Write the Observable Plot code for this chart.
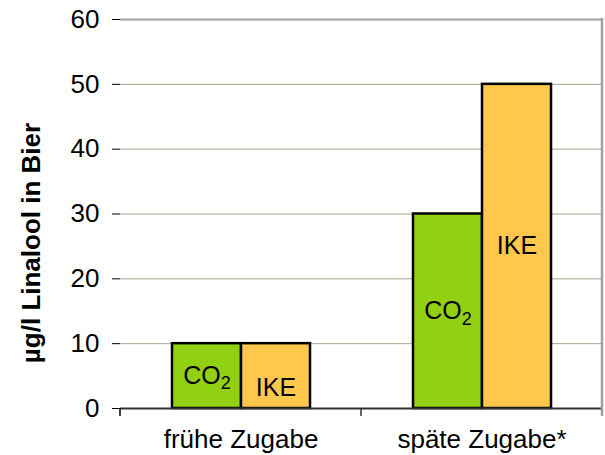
<!DOCTYPE html>
<html><head><meta charset="utf-8">
<script src="https://cdn.jsdelivr.net/npm/d3@7"></script>
<script src="https://cdn.jsdelivr.net/npm/@observablehq/plot@0.6"></script>
<style>body{margin:0;background:#fff}</style>
</head><body><div id="chart"></div>
<script>
const categories = ["frühe Zugabe", "späte Zugabe*"];
const seriesNames = ["CO2", "IKE"];
const co2Values = [10, 30];
const ikeValues = [10, 50];
const yTicks = [0, 10, 20, 30, 40, 50, 60];
const gridTicks = [10, 20, 30, 40, 50];
const yTitle = "µg/l Linalool in Bier";
const seriesColors = ["#92d013", "#ffc84c"];

const data = categories.flatMap((cat, i) => [
  {cat, series: "CO2", value: co2Values[i]},
  {cat, series: "IKE", value: ikeValues[i]}
]);
const lowIKE = d => d.cat === categories[0] && d.series === "IKE";

const chart = Plot.plot({
  width: 605, height: 455,
  marginLeft: 119, marginRight: 3, marginTop: 19, marginBottom: 47,
  style: {fontFamily: "'Liberation Sans', Arial, sans-serif", fontSize: "26px", color: "#000", background: "#fff"},
  fx: {domain: categories, padding: 0, label: null},
  x: {domain: seriesNames, paddingInner: 0, paddingOuter: 0.746, axis: null},
  y: {domain: [0, 60], label: null},
  color: {domain: seriesNames, range: seriesColors},
  marks: [
    Plot.ruleY(gridTicks, {stroke: "#a3a38c", strokeWidth: 1}),
    Plot.ruleY([60], {stroke: "#a0a0a0", strokeWidth: 2}),
    Plot.barY(data, {fx: "cat", x: "series", y: "value", fill: "series", stroke: "#000", strokeWidth: 2.5}),
    Plot.text(data.filter(d => !lowIKE(d)), {fx: "cat", x: "series", y: d => d.value / 2, text: "series", fontSize: 25}),
    Plot.text(data.filter(lowIKE), {fx: "cat", x: "series", y: d => d.value / 2, text: "series", fontSize: 25, dy: 12}),
    Plot.ruleY([0], {stroke: "#333", strokeWidth: 2}),
    Plot.axisY({ticks: yTicks, tickSize: 8, tickPadding: 13, line: true, label: null}),
    Plot.axisFx({anchor: "bottom", tickSize: 0, tickPadding: 21, label: null}),
    Plot.text([yTitle], {facet: "super", frameAnchor: "left", textAnchor: "middle", lineAnchor: "middle", rotate: -90, dx: -89, dy: 29, fontWeight: "bold", fontSize: 26})
  ]
});

// subscript for CO2 labels
d3.select(chart).selectAll("text").each(function () {
  if (this.textContent === "CO2") {
    const t = d3.select(this);
    t.text("CO");
    t.append("tspan").attr("dy", "0.3em").attr("font-size", "0.72em").text("2");
  }
});

// category boundary ticks and right border, from Plot's own scales
const fx = chart.scale("fx");
const ys = chart.scale("y");
const yBottom = ys.apply(0), yTop = ys.apply(60);
const left = fx.apply(categories[0]);
const mid = fx.apply(categories[1]);
const right = mid + fx.bandwidth;
const svg = d3.select(chart);
svg.append("line").attr("x1", right).attr("x2", right).attr("y1", yTop - 1).attr("y2", yBottom + 8)
  .attr("stroke", "#a0a0a0").attr("stroke-width", 2.5);
[[left, "#000"], [mid, "#333"]].forEach(([x, c]) => {
  svg.append("line").attr("x1", x).attr("x2", x).attr("y1", yBottom).attr("y2", yBottom + 8)
    .attr("stroke", c).attr("stroke-width", 1.5);
});
document.getElementById("chart").append(chart);
</script>
</body></html>
